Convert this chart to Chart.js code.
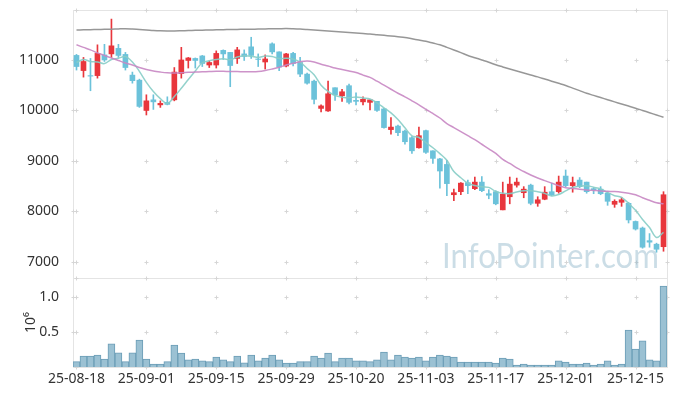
<!DOCTYPE html>
<html>
<head>
<meta charset="utf-8">
<script src="https://cdn.jsdelivr.net/npm/chart.js@4.4.1/dist/chart.umd.min.js"></script>
<style>
  html, body { margin: 0; padding: 0; background: #fff; }
  #wrap { position: relative; width: 677px; height: 396px; overflow: hidden; }
  #priceChart { position: absolute; left: 0; top: 0; }
  #volChart { position: absolute; left: 0; top: 278px; }
</style>
</head>
<body>
<div id="wrap">
  <canvas id="priceChart" width="677" height="279"></canvas>
  <canvas id="volChart" width="677" height="118"></canvas>
</div>
<script>
// --- Data ---
const dates = [
  '25-08-18','25-08-19','25-08-20','25-08-21','25-08-22','25-08-25','25-08-26','25-08-27','25-08-28','25-08-29',
  '25-09-01','25-09-02','25-09-03','25-09-04','25-09-05','25-09-08','25-09-09','25-09-10','25-09-11','25-09-12',
  '25-09-15','25-09-16','25-09-17','25-09-18','25-09-19','25-09-22','25-09-23','25-09-24','25-09-25','25-09-26',
  '25-09-29','25-09-30','25-10-01','25-10-02','25-10-10','25-10-13','25-10-14','25-10-15','25-10-16','25-10-17',
  '25-10-20','25-10-21','25-10-22','25-10-23','25-10-24','25-10-27','25-10-28','25-10-29','25-10-30','25-10-31',
  '25-11-03','25-11-04','25-11-05','25-11-06','25-11-07','25-11-10','25-11-11','25-11-12','25-11-13','25-11-14',
  '25-11-17','25-11-18','25-11-19','25-11-20','25-11-21','25-11-24','25-11-25','25-11-26','25-11-27','25-11-28',
  '25-12-01','25-12-02','25-12-03','25-12-04','25-12-05','25-12-08','25-12-09','25-12-10','25-12-11','25-12-12',
  '25-12-15','25-12-16','25-12-17','25-12-18','25-12-19'
];
const tickDates = ['25-08-18','25-09-01','25-09-15','25-09-29','25-10-20','25-11-03','25-11-17','25-12-01','25-12-15'];

const opens = [11090,10790,10690,10690,11100,11120,11230,11110,10700,10600,
  10000,10210,10110,10160,10210,10730,10990,11030,11080,10900,
  10900,11190,11150,11030,11120,11260,11020,10960,11320,11160,
  10880,11130,10950,10720,10580,10040,9990,10450,10290,10490,
  10200,10170,10160,10180,10030,9620,9690,9590,9460,9260,
  9600,9200,9040,8930,8330,8390,8570,8450,8580,8350,
  8390,8030,8290,8520,8370,8520,8160,8240,8390,8390,
  8700,8510,8620,8580,8450,8440,8360,8140,8180,8160,
  7800,7670,7420,7350,7300];
const highs = [11110,11050,11030,11300,11310,11810,11310,11150,10760,10620,
  10310,10310,10190,10270,10850,11250,11050,11040,11090,10980,
  11180,11200,11150,11250,11200,11450,11120,11100,11340,11160,
  11130,11150,11050,10740,10600,10110,10580,10450,10420,10520,
  10350,10270,10210,10180,10040,9860,9710,9610,9480,9670,
  9610,9200,9050,9010,8440,8570,8620,8680,8690,8430,
  8410,8580,8680,8660,8490,8540,8290,8490,8560,8700,
  8820,8680,8670,8580,8470,8490,8390,8230,8280,8180,
  7810,7690,7560,7370,8390];
const lows = [10800,10660,10390,10640,10970,11050,11050,10800,10540,10060,
  9910,10020,10060,10110,10190,10640,10840,10840,10870,10850,
  10840,11010,10470,10930,10990,11030,10870,10820,11120,10790,
  10860,10880,10670,10520,10130,9970,9980,10200,10180,10130,
  10110,10110,10010,9980,9650,9530,9500,9330,9150,9250,
  9150,8950,8460,8310,8210,8330,8350,8430,8390,8250,
  8130,8030,8150,8480,8270,8130,8100,8230,8310,8360,
  8490,8380,8470,8360,8350,8330,8120,8080,8100,7770,
  7630,7270,7290,7190,7210];
const closes = [10870,10970,10680,11130,11000,11280,11090,10850,10590,10080,
  10190,10170,10140,10120,10760,11000,11040,10990,10930,10950,
  11130,11120,10890,11200,11070,11090,11010,11020,11160,10860,
  11120,10930,10720,10540,10220,10090,10330,10310,10370,10160,
  10180,10220,10210,10000,9660,9670,9560,9380,9200,9500,
  9170,9050,8800,8550,8370,8560,8510,8580,8410,8320,
  8150,8340,8540,8580,8440,8160,8230,8380,8330,8580,
  8510,8570,8490,8390,8430,8350,8200,8200,8230,7830,
  7650,7290,7390,7250,8330];

// moving averages as drawn in the picture
const ma5 = [10950,11010,10970,10960,10928,11010,11034,11069,10960,10775,
  10557,10374,10233,10139,10275,10438,10612,10782,10945,10983,
  11009,11025,11004,11057,11082,11074,11052,11078,11070,11027,
  11032,11017,10956,10832,10706,10500,10378,10296,10263,10250,
  10267,10246,10226,10151,10052,9952,9820,9655,9496,9463,
  9363,9261,9145,9013,8789,8666,8558,8513,8487,8476,
  8394,8360,8352,8385,8409,8411,8389,8357,8307,8335,
  8405,8474,8496,8509,8479,8446,8371,8311,8278,8159,
  8021,7840,7679,7484,7583];
const ma20 = [11300,11250,11200,11140,11090,11040,10990,10940,10900,10850,
  10810,10780,10760,10745,10740,10745,10755,10760,10765,10770,
  10775,10775,10770,10770,10765,10765,10770,10790,10820,10855,
  10900,10935,10965,10980,10960,10915,10880,10840,10810,10780,
  10750,10700,10655,10580,10500,10420,10340,10270,10190,10110,
  10020,9940,9850,9740,9660,9580,9500,9420,9330,9240,
  9150,9030,8950,8860,8790,8720,8660,8610,8560,8510,
  8470,8455,8440,8425,8415,8405,8398,8392,8380,8360,
  8330,8270,8220,8170,8150];
const ma60 = [11594,11597,11600,11603,11607,11610,11615,11618,11612,11603,
  11595,11585,11578,11575,11574,11578,11583,11588,11591,11594,
  11597,11600,11603,11605,11608,11610,11612,11615,11618,11620,
  11622,11618,11612,11603,11593,11582,11572,11562,11553,11544,
  11535,11525,11515,11502,11489,11475,11460,11445,11420,11395,
  11370,11335,11300,11250,11198,11145,11090,11045,11000,10955,
  10905,10862,10820,10780,10740,10702,10665,10623,10580,10538,
  10495,10443,10392,10340,10298,10255,10212,10170,10128,10087,
  10045,10000,9955,9910,9865];

const volumes = [76000,157000,157000,171000,114000,333000,204000,76000,204000,386000,
  114000,43000,43000,76000,314000,200000,104000,114000,90000,76000,
  143000,104000,76000,157000,61000,171000,90000,128000,171000,104000,
  57000,57000,76000,76000,157000,128000,200000,76000,128000,128000,
  90000,90000,76000,104000,214000,104000,171000,143000,128000,143000,
  90000,143000,171000,157000,143000,71000,71000,71000,71000,71000,
  57000,128000,114000,29000,43000,29000,29000,29000,29000,90000,
  71000,43000,43000,57000,29000,43000,90000,29000,43000,529000,
  257000,376000,104000,90000,1161000];

const priceTicks = [7000, 8000, 9000, 10000, 11000];
const volTicks = [500000, 1000000];

const RED = '#e8363c';
const BLUE = '#6cc2da';
const FONT = '"Noto Sans", sans-serif';
const WATERMARK = 'InfoPointer.com';

const candleColors = closes.map((c, i) => (c >= opens[i] ? RED : BLUE));

// grid is drawn as small "+" marks plus a thin frame
function crossGrid(yTicks) {
  return {
    id: 'crossGrid',
    beforeDatasetsDraw(chart) {
      const { ctx, chartArea: a, scales } = chart;
      const xs = tickDates.map(d => scales.x.getPixelForValue(dates.indexOf(d)));
      const ys = yTicks.map(v => scales.y.getPixelForValue(v));
      ctx.save();
      ctx.lineWidth = 1;
      ctx.strokeStyle = '#e4e4e4';
      ctx.strokeRect(a.left + 0.5, a.top + 0.5, a.width, a.height);
      ctx.strokeStyle = '#d6d6d6';
      const plus = (x, y) => {
        x = Math.round(x) + 0.5;
        y = Math.round(y) + 0.5;
        ctx.beginPath();
        ctx.moveTo(x - 2, y); ctx.lineTo(x + 2, y);
        ctx.moveTo(x, y - 2); ctx.lineTo(x, y + 2);
        ctx.stroke();
      };
      xs.forEach(x => {
        ys.forEach(y => plus(x, y));
        plus(x, a.top);
        plus(x, a.bottom);
      });
      ys.forEach(y => { plus(a.left, y); plus(a.right, y); });
      ctx.restore();
    }
  };
}

const watermark = {
  id: 'watermark',
  beforeDatasetsDraw(chart) {
    const ctx = chart.ctx;
    ctx.save();
    ctx.font = '35px Lato, "Noto Sans", sans-serif';
    const w = ctx.measureText(WATERMARK).width;
    ctx.translate(442, 268);
    ctx.scale(217 / w, 1);
    ctx.fillStyle = 'rgba(140, 180, 200, 0.45)';
    ctx.textBaseline = 'alphabetic';
    ctx.fillText(WATERMARK, 0, 0);
    ctx.restore();
  }
};

// fixed axis boxes so both panels line up
const fixY = (scale) => {
  scale.width = 73;
  scale.paddingTop = 0;
  scale.paddingBottom = 0;
};

const lineSet = (data, color) => ({
  type: 'line',
  data: data,
  borderColor: color,
  borderWidth: 1.5,
  pointRadius: 0,
  tension: 0.35,
  order: 0
});

new Chart(document.getElementById('priceChart'), {
  type: 'bar',
  data: {
    labels: dates,
    datasets: [
      lineSet(ma60, 'rgba(145, 145, 145, 0.95)'),
      lineSet(ma20, 'rgba(200, 135, 195, 0.9)'),
      lineSet(ma5, 'rgba(135, 205, 198, 0.9)'),
      {
        data: opens.map((o, i) => [o, closes[i]]),
        backgroundColor: candleColors,
        barThickness: 5,
        grouped: false,
        order: 1
      },
      {
        data: lows.map((l, i) => [l, highs[i]]),
        backgroundColor: candleColors,
        barThickness: 1,
        grouped: false,
        order: 2
      }
    ]
  },
  options: {
    responsive: false,
    devicePixelRatio: 1,
    animation: false,
    layout: { padding: { top: 10, right: 10, bottom: 1, left: 0 } },
    plugins: { legend: { display: false }, tooltip: { enabled: false } },
    scales: {
      x: { type: 'category', offset: true, display: false },
      y: {
        min: 6680,
        max: 11990,
        grid: { display: false },
        border: { display: false },
        afterBuildTicks: (scale) => { scale.ticks = priceTicks.map(v => ({ value: v })); },
        afterFit: fixY,
        ticks: {
          padding: 6,
          color: '#333',
          font: { family: FONT, size: 14 },
          callback: (v) => String(v)
        }
      }
    }
  },
  plugins: [crossGrid(priceTicks), watermark]
});

new Chart(document.getElementById('volChart'), {
  type: 'bar',
  data: {
    labels: dates,
    datasets: [{
      data: volumes,
      backgroundColor: '#9bc1d3',
      borderColor: '#6b9db6',
      borderWidth: 1,
      barPercentage: 1,
      categoryPercentage: 1
    }]
  },
  options: {
    responsive: false,
    devicePixelRatio: 1,
    animation: false,
    layout: { padding: { top: 0, right: 10, bottom: 0, left: 0 } },
    plugins: { legend: { display: false }, tooltip: { enabled: false } },
    scales: {
      x: {
        type: 'category',
        offset: true,
        grid: { display: false },
        border: { display: false },
        afterBuildTicks: (scale) => {
          scale.ticks = tickDates.map(d => ({ value: dates.indexOf(d) }));
        },
        afterFit: (scale) => {
          scale.height = 29;
          scale.paddingLeft = 0;
          scale.paddingRight = 0;
        },
        ticks: {
          autoSkip: false,
          maxRotation: 0,
          padding: -4,
          color: '#333',
          font: { family: FONT, size: 14 }
        }
      },
      y: {
        min: 0,
        max: 1277000,
        grid: { display: false },
        border: { display: false },
        afterBuildTicks: (scale) => { scale.ticks = volTicks.map(v => ({ value: v })); },
        afterFit: fixY,
        title: {
          display: true,
          text: '10⁶',
          color: '#333',
          font: { family: FONT, size: 14 },
          padding: { top: 23, bottom: 0 }
        },
        ticks: {
          padding: 6,
          color: '#333',
          font: { family: FONT, size: 14 },
          callback: (v) => (v / 1e6).toFixed(1)
        }
      }
    }
  },
  plugins: [crossGrid(volTicks)]
});
</script>
</body>
</html>
